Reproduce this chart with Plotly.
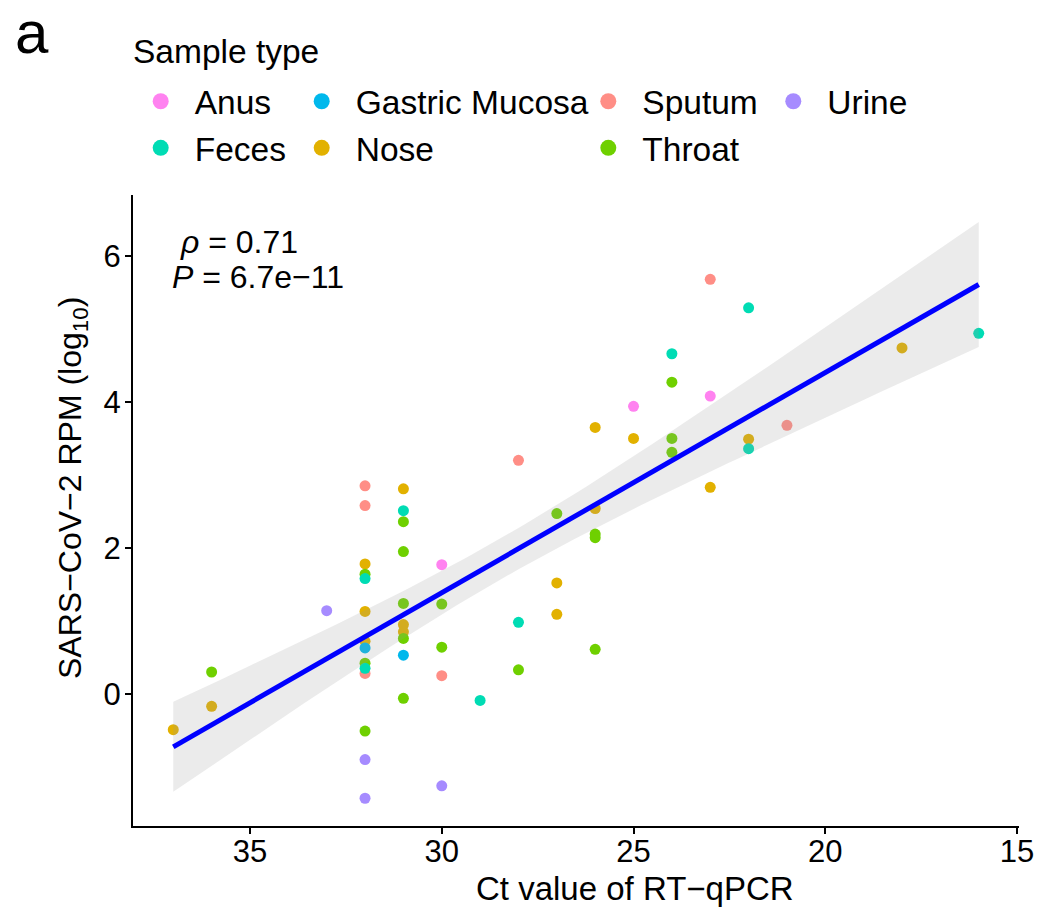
import numpy as np
import plotly.graph_objects as go

# ---------------- data ----------------
categories = ["Anus", "Feces", "Gastric Mucosa", "Nose", "Sputum", "Throat", "Urine"]
colors = ["#FF82F0", "#00DCB4", "#00B8EC", "#E2B100", "#FF8E86", "#6FD000", "#A68BFF"]

anus_ct = [25, 23, 30]
anus_rpm = [3.94, 4.08, 1.77]

feces_ct = [22, 24, 16, 22, 31, 32, 28, 32, 29]
feces_rpm = [5.29, 4.66, 4.94, 3.36, 2.51, 1.58, 0.98, 0.35, -0.09]

gastric_ct = [32, 31]
gastric_rpm = [0.63, 0.53]

nose_ct = [18, 26, 25, 22, 23, 31, 26, 32, 27, 32, 27, 31, 31, 32, 36, 37]
nose_rpm = [4.74, 3.65, 3.50, 3.49, 2.83, 2.81, 2.54, 1.78, 1.52, 1.13, 1.09, 0.95, 0.85, 0.72, -0.17, -0.49]

sputum_ct = [23, 21, 28, 32, 32, 32, 30]
sputum_rpm = [5.68, 3.68, 3.20, 2.85, 2.58, 0.28, 0.25]

throat_ct = [24, 24, 24, 27, 31, 26, 26, 31, 32, 31, 30, 31, 30, 26, 32, 28, 36, 31, 32]
throat_rpm = [4.27, 3.50, 3.31, 2.47, 2.36, 2.19, 2.14, 1.95, 1.64, 1.24, 1.23, 0.76, 0.64, 0.61, 0.42, 0.33, 0.30, -0.06, -0.51]

urine_ct = [33, 32, 32, 30]
urine_rpm = [1.14, -0.90, -1.43, -1.26]

x_ticks = [35, 30, 25, 20, 15]
y_ticks = [0, 2, 4, 6]
stat_lines = ["<i>ρ</i> = 0.71", "<i>P</i> = 6.7e−11"]

series = {
    "Anus": (anus_ct, anus_rpm),
    "Feces": (feces_ct, feces_rpm),
    "Gastric Mucosa": (gastric_ct, gastric_rpm),
    "Nose": (nose_ct, nose_rpm),
    "Sputum": (sputum_ct, sputum_rpm),
    "Throat": (throat_ct, throat_rpm),
    "Urine": (urine_ct, urine_rpm),
}
color_of = dict(zip(categories, colors))

FONT = "Liberation Sans, Arial, Helvetica, sans-serif"
W, H = 1037, 922
L, R, T, B = 133, 18, 195, 96
PW, PH = W - L - R, H - T - B


def px(x):
    return (x - L) / PW


def py(y):
    return (H - B - y) / PH


fig = go.Figure()

# points (draw order chosen so overlaps resemble the reference)
draw_order = ["Nose", "Sputum", "Throat", "Gastric Mucosa", "Urine", "Anus", "Feces"]
for cat in draw_order:
    xs, ys = series[cat]
    fig.add_trace(go.Scatter(
        x=xs, y=ys, mode="markers", name=cat, showlegend=False,
        marker=dict(color=color_of[cat], size=11, line=dict(width=0)),
    ))

# linear fit with 95% confidence band, computed from the data
all_x = np.concatenate([np.array(series[c][0], float) for c in categories])
all_y = np.concatenate([np.array(series[c][1], float) for c in categories])
n = len(all_x)
slope, intercept = np.polyfit(all_x, all_y, 1)
resid = all_y - (slope * all_x + intercept)
s = np.sqrt(np.sum(resid ** 2) / (n - 2))
xm = all_x.mean()
sxx = np.sum((all_x - xm) ** 2)
T975 = 2.0  # t quantile, df ~ 58
grid = np.linspace(all_x.min(), all_x.max(), 120)
fit = slope * grid + intercept
se = s * np.sqrt(1.0 / n + (grid - xm) ** 2 / sxx)
upper = fit + T975 * se
lower = fit - T975 * se

fig.add_trace(go.Scatter(
    x=np.concatenate([grid, grid[::-1]]), y=np.concatenate([upper, lower[::-1]]),
    mode="lines", fill="toself", fillcolor="rgba(153,153,153,0.2)",
    line=dict(width=0), hoverinfo="skip", showlegend=False,
))
fig.add_trace(go.Scatter(
    x=grid, y=fit, mode="lines", line=dict(color="#0000FF", width=5),
    hoverinfo="skip", showlegend=False,
))

# legend: 4 columns, column-major like the reference
columns = [["Anus", "Feces"], ["Gastric Mucosa", "Nose"], ["Sputum", "Throat"], ["Urine"]]
col_left = [126.7, 287.7, 574.3, 759.3]
legend_ids = ["legend", "legend2", "legend3", "legend4"]
for col, lid in zip(columns, legend_ids):
    for rank, cat in enumerate(col):
        fig.add_trace(go.Scatter(
            x=[None], y=[None], mode="markers", name=cat, legend=lid,
            legendrank=rank + 1,
            marker=dict(color=color_of[cat], size=16, line=dict(width=0)),
        ))

legend_common = dict(
    orientation="v", xref="container", yref="container",
    xanchor="left", yanchor="top", font=dict(family=FONT, size=33.5, color="black"),
    bgcolor="rgba(0,0,0,0)", itemwidth=58, tracegroupgap=0, traceorder="normal",
)
layout_legends = {}
for lid, lx in zip(legend_ids, col_left):
    layout_legends[lid] = dict(legend_common, x=lx / W, y=1 - 73 / H)

axis_common = dict(
    showgrid=False, zeroline=False, showline=True, linecolor="black", linewidth=2,
    ticks="outside", ticklen=6, tickwidth=2, tickcolor="black",
    tickfont=dict(family=FONT, size=31, color="black"),
)

fig.update_layout(
    width=W, height=H, margin=dict(l=L, r=R, t=T, b=B, autoexpand=False),
    paper_bgcolor="white", plot_bgcolor="white",
    font=dict(family=FONT, color="black"),
    xaxis=dict(axis_common, range=[38.05, 14.95], tickvals=x_ticks, ticklabelstandoff=-9),
    yaxis=dict(axis_common, range=[-1.81, 6.835], tickvals=y_ticks, ticklabelstandoff=-2),
    **layout_legends,
)

annotations = [
    dict(text="a", x=px(13), y=py(32), xanchor="left", yanchor="middle", font=dict(size=60)),
    dict(text="Sample type", x=px(131), y=py(51), xanchor="left", yanchor="middle", font=dict(size=33.5)),
    dict(text=stat_lines[0], x=px(178), y=py(242), xanchor="left", yanchor="middle", font=dict(size=32)),
    dict(text=stat_lines[1], x=px(170), y=py(277), xanchor="left", yanchor="middle", font=dict(size=32)),
    dict(text="Ct value of RT−qPCR", x=px(635), y=py(888), xanchor="center", yanchor="middle", font=dict(size=33)),
    dict(text="SARS−CoV−2 RPM (log<sub>10</sub>)", x=px(72), y=py(488), xanchor="center", yanchor="middle",
         textangle=-90, font=dict(size=32)),
]
for a in annotations:
    a.update(xref="paper", yref="paper", showarrow=False)
    a["font"] = dict(family=FONT, color="black", **a["font"])
fig.update_layout(annotations=annotations)

fig.write_html("out.html")
